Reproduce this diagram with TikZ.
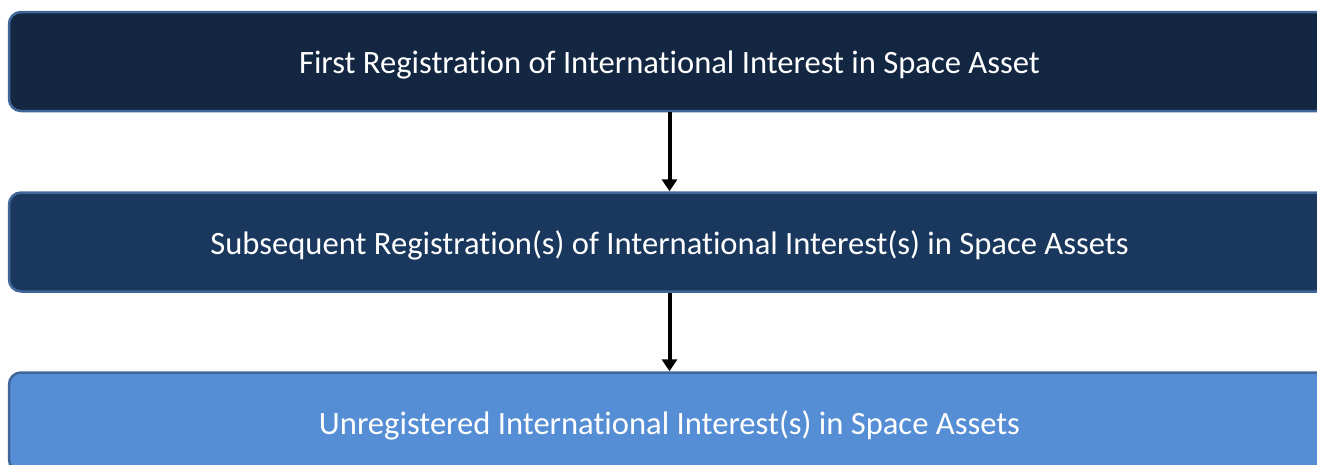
\documentclass[tikz,border=0pt]{standalone}
\usepackage{fontspec}
\setmainfont{Carlito}[Ligatures={NoCommon}]
\usetikzlibrary{arrows.meta}
\definecolor{edgeblue}{HTML}{41679A}
\definecolor{fillA}{HTML}{132642}
\definecolor{fillB}{HTML}{1A385D}
\definecolor{fillC}{HTML}{558ED5}
\tikzset{
  levelbox/.style={draw=edgeblue, line width=2.5pt, rounded corners=12pt,
    minimum width=1321pt, minimum height=99pt, text=white, inner sep=0pt,
    text height=28pt, text depth=4pt,
    font=\fontsize{32.6}{36}\selectfont},
  flowarrow/.style={line width=4pt, -{Triangle[width=15pt,length=12pt]}}
}
\begin{document}
\begin{tikzpicture}[x=1pt,y=-1pt]
\useasboundingbox (0,0) rectangle (1317,464);
\clip (0,0) rectangle (1317,464);
\node[levelbox, fill=fillA] (b1) at (669.5,61.5) {First Registration of International Interest in Space Asset};
\node[levelbox, fill=fillB] (b2) at (669.5,242) {Subsequent Registration(s) of International Interest(s) in Space Assets};
\node[levelbox, fill=fillC] (b3) at (669.5,422) {Unregistered International Interest(s) in Space Assets};
\draw[flowarrow] (b1) -- (b2);
\draw[flowarrow] (b2) -- (b3);
\end{tikzpicture}
\end{document}
